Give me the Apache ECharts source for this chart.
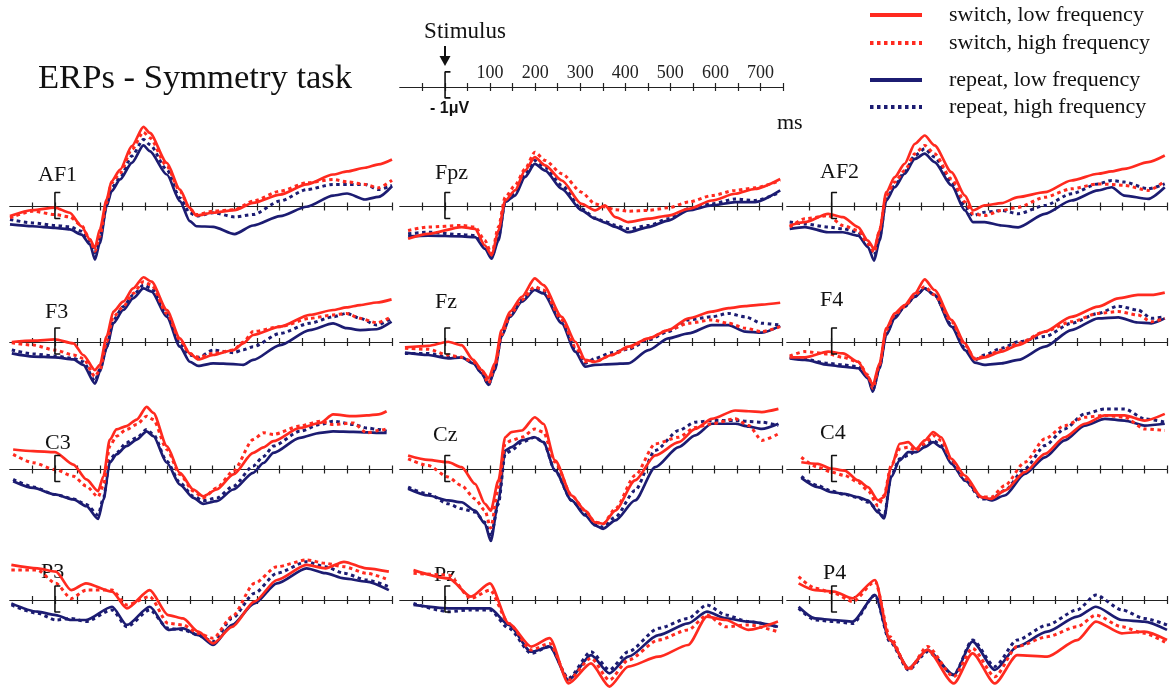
<!DOCTYPE html>
<html>
<head>
<meta charset="utf-8">
<script src="https://cdn.jsdelivr.net/npm/echarts@6/dist/echarts.min.js"></script>
<style>
  html, body { margin: 0; padding: 0; background: #ffffff; }
  #chart { width: 1173px; height: 698px; }
</style>
</head>
<body>
<div id="chart"></div>
<script>
// ---- Conditions, electrodes and axis ticks ----
const conditions = ['switch, low frequency', 'switch, high frequency', 'repeat, low frequency', 'repeat, high frequency'];
const electrodes = ['AF1', 'Fpz', 'AF2', 'F3', 'Fz', 'F4', 'C3', 'Cz', 'C4', 'P3', 'Pz', 'P4'];
const tickMs = [-50, 0, 50, 100, 150, 200, 250, 300, 350, 400, 450, 500, 550, 600, 650, 700, 750];
const scaleLabels = [100, 200, 300, 400, 500, 600, 700];

// ---- Grand-average waveforms (ms, µV; negative plotted upward) ----
// sl = switch/low, sh = switch/high, rl = repeat/low, rh = repeat/high
const AF1_ms = [-100,-50,0,33,59,78,89,100,115,126,145,171,197,211,249,278,300,315,352,400,441,501,560,619,650,690,720,750];
const AF1_sl = [0.37,0.14,0.04,0.24,0.76,1.27,1.59,0.88,-0.27,-0.97,-1.42,-2.32,-3.06,-2.83,-1.68,-0.65,0.05,0.35,0.24,0.14,-0.14,-0.46,-0.85,-1.23,-1.35,-1.49,-1.62,-1.81];
const AF1_sh = [0.44,0.18,0.31,0.40,0.73,1.27,1.72,1.14,-0.14,-0.91,-1.29,-2.19,-2.86,-2.64,-1.55,-0.59,0.09,0.31,0.18,0.12,-0.21,-0.59,-0.91,-1.04,-0.95,-0.85,-0.72,-1.01];
const AF1_rl = [0.69,0.76,0.82,0.88,1.08,1.46,2.04,1.40,-0.01,-0.59,-1.04,-1.68,-2.35,-2.13,-1.23,-0.21,0.56,0.76,0.78,1.06,0.73,0.37,0.01,-0.42,-0.50,-0.27,-0.37,-0.78];
const AF1_rh = [0.50,0.63,0.73,0.78,0.95,1.33,1.78,1.21,-0.08,-0.72,-1.10,-1.94,-2.58,-2.38,-1.42,-0.33,0.24,0.37,0.24,0.40,0.31,-0.21,-0.65,-0.85,-0.85,-0.85,-0.65,-0.81];

const Fpz_ms = [-82,-37,37,67,89,104,119,134,156,178,200,223,260,304,334,356,379,408,453,497,542,594,646,690,746];
const Fpz_sl = [1.24,1.05,0.79,0.86,1.50,1.88,0.92,-0.23,-0.62,-1.38,-1.90,-1.58,-1.00,-0.10,0.15,-0.04,0.41,0.60,0.47,0.35,0.09,-0.23,-0.49,-0.68,-1.06];
const Fpz_sh = [0.92,0.79,0.73,0.79,1.31,1.82,0.79,-0.36,-0.81,-1.44,-2.09,-1.77,-1.26,-0.55,-0.10,0.02,0.12,0.18,0.15,0.05,-0.17,-0.42,-0.62,-0.72,-1.00];
const Fpz_rl = [1.15,1.12,1.15,1.18,1.63,2.01,1.31,-0.17,-0.42,-1.13,-1.64,-1.38,-0.68,0.15,0.47,0.62,0.78,0.99,0.79,0.54,0.15,-0.04,-0.17,-0.17,-0.62];
const Fpz_rh = [1.05,0.99,1.08,1.12,1.56,1.95,1.18,-0.17,-0.55,-1.26,-1.77,-1.51,-0.81,0.09,0.44,0.58,0.72,0.86,0.73,0.47,0.09,-0.10,-0.29,-0.23,-0.55];

const AF2_ms = [-94,-60,-8,25,59,81,95,107,122,141,163,186,208,230,268,298,316,342,380,417,477,536,596,626,655,708,745];
const AF2_sl = [0.73,0.60,0.28,0.41,0.79,1.31,1.63,0.92,-0.55,-1.13,-1.64,-2.41,-2.73,-2.35,-1.32,-0.42,0.15,-0.04,-0.13,-0.36,-0.55,-1.00,-1.26,-1.35,-1.45,-1.71,-1.96];
const AF2_sh = [0.79,0.47,0.35,0.73,0.92,1.44,1.76,0.92,-0.42,-0.94,-1.38,-2.03,-2.35,-2.03,-1.06,-0.17,0.28,0.35,0.15,0.03,-0.36,-0.68,-0.87,-0.85,-0.81,-0.62,-0.97];
const AF2_rl = [0.86,0.79,0.99,0.99,1.12,1.56,2.08,1.31,-0.23,-0.74,-1.26,-1.83,-2.03,-1.71,-0.81,0.15,0.60,0.60,0.73,0.80,0.28,-0.23,-0.62,-0.74,-0.42,-0.29,-0.74];
const AF2_rh = [0.60,0.67,0.79,0.86,0.99,1.44,1.88,1.18,-0.29,-0.81,-1.32,-1.96,-2.22,-1.90,-0.94,-0.04,0.35,0.22,0.15,0.28,-0.04,-0.49,-0.87,-1.00,-0.94,-0.68,-0.87];

const F3_ms = [-96,-48,0,41,63,89,100,115,130,152,174,197,215,249,278,300,319,352,397,419,441,501,567,619,649,679,716,749];
const F3_sl = [0.00,-0.05,-0.10,0.05,0.50,1.08,0.88,-0.21,-1.17,-1.55,-2.06,-2.49,-2.32,-1.23,-0.14,0.44,0.67,0.50,0.31,0.05,-0.27,-0.59,-1.04,-1.23,-1.33,-1.42,-1.52,-1.64];
const F3_sh = [0.03,0.12,0.31,0.50,0.63,1.33,1.08,-0.01,-0.97,-1.36,-1.87,-2.32,-2.19,-1.10,-0.08,0.44,0.59,0.44,0.31,0.00,-0.40,-0.59,-0.91,-1.04,-1.10,-0.91,-0.74,-0.97];
const F3_rl = [0.44,0.56,0.59,0.67,0.88,1.60,1.15,0.24,-0.72,-1.23,-1.68,-2.06,-1.94,-0.97,0.18,0.76,0.92,0.82,0.85,0.88,0.69,0.12,-0.46,-0.72,-0.53,-0.46,-0.49,-0.78];
const F3_rh = [0.31,0.46,0.54,0.63,0.76,1.50,1.05,0.18,-0.85,-1.36,-1.81,-2.19,-2.06,-1.10,0.05,0.50,0.59,0.31,0.41,0.30,0.18,-0.33,-0.72,-0.97,-1.10,-0.91,-0.65,-0.91];

const Fz_ms = [-89,-37,7,37,63,82,97,111,126,145,171,200,219,260,290,312,334,371,408,453,497,542,594,631,668,705,746];
const Fz_sl = [0.21,0.15,-0.01,0.12,0.69,1.08,1.40,0.82,-0.46,-1.17,-1.74,-2.45,-2.19,-0.97,-0.01,0.69,0.76,0.50,0.18,-0.14,-0.46,-0.91,-1.17,-1.30,-1.38,-1.44,-1.51];
const Fz_sh = [0.24,0.28,0.50,0.59,0.76,1.08,1.59,0.95,-0.27,-1.04,-1.62,-2.13,-2.00,-0.85,0.18,0.76,0.76,0.50,0.24,-0.14,-0.46,-0.72,-0.85,-0.72,-0.53,-0.40,-0.59];
const Fz_rl = [0.41,0.50,0.63,0.59,0.82,1.21,1.65,1.08,-0.21,-0.97,-1.55,-2.00,-1.87,-0.72,0.37,0.95,0.88,0.85,0.82,0.31,-0.14,-0.33,-0.65,-0.65,-0.40,-0.36,-0.62];
const Fz_rh = [0.44,0.44,0.59,0.59,0.79,1.21,1.65,1.01,-0.27,-1.04,-1.62,-2.06,-1.94,-0.85,0.24,0.82,0.63,0.41,0.28,-0.08,-0.40,-0.85,-0.97,-1.10,-0.97,-0.72,-0.65];

const F4_ms = [-94,-60,-8,25,59,81,92,107,122,141,163,186,208,230,268,298,320,342,380,417,477,536,596,641,685,715,745];
const F4_sl = [0.59,0.59,0.37,0.44,0.76,1.33,1.65,0.82,-0.53,-1.10,-1.42,-1.87,-2.41,-2.00,-0.85,0.05,0.67,0.59,0.37,0.12,-0.40,-0.97,-1.36,-1.68,-1.81,-1.81,-1.90];
const F4_sh = [0.54,0.37,0.46,0.59,0.76,1.27,1.78,0.88,-0.46,-1.04,-1.36,-1.81,-2.13,-1.81,-0.78,0.12,0.63,0.56,0.31,0.05,-0.40,-0.78,-1.10,-1.17,-1.04,-0.78,-0.91];
const F4_rl = [0.63,0.69,0.88,0.95,1.01,1.40,1.91,1.01,-0.27,-0.91,-1.36,-1.74,-2.06,-1.81,-0.59,0.31,0.79,0.88,0.82,0.69,0.18,-0.46,-0.91,-0.95,-0.75,-0.72,-0.91];
const F4_rh = [0.59,0.67,0.82,0.88,0.95,1.33,1.85,0.95,-0.33,-0.97,-1.36,-1.74,-2.06,-1.81,-0.65,0.24,0.69,0.50,0.24,-0.01,-0.21,-0.72,-1.10,-1.38,-1.23,-0.91,-0.97];

const C3_ms = [-93,-48,0,41,70,96,108,122,137,159,182,204,219,249,278,308,330,360,397,441,464,486,545,590,619,664,694,720,738];
const C3_sl = [-0.77,-0.71,-0.67,-0.19,0.38,0.83,0.26,-1.15,-1.54,-1.67,-1.92,-2.41,-2.18,-0.90,0.13,0.77,1.03,0.77,0.19,-0.64,-0.85,-1.09,-1.60,-1.79,-2.12,-2.05,-2.08,-2.12,-2.24];
const C3_sh = [-0.58,-0.26,0.00,0.26,0.64,1.05,0.60,-0.90,-1.28,-1.54,-1.73,-2.05,-1.92,-0.77,0.19,0.83,1.09,0.71,0.06,-1.15,-1.41,-1.35,-1.67,-1.86,-1.73,-1.79,-1.41,-1.50,-1.56];
const C3_rl = [0.45,0.71,0.96,1.15,1.41,1.90,1.15,-0.26,-0.58,-0.90,-1.15,-1.47,-1.28,-0.26,0.58,1.09,1.32,1.22,0.77,0.13,-0.25,-0.64,-1.22,-1.41,-1.47,-1.45,-1.43,-1.41,-1.41];
const C3_rh = [0.38,0.67,0.96,1.13,1.35,1.75,1.09,-0.38,-0.64,-1.03,-1.22,-1.54,-1.35,-0.32,0.51,1.03,1.20,1.10,0.64,-0.13,-0.50,-0.90,-1.47,-1.73,-1.86,-1.73,-1.60,-1.54,-1.47];

const Cz_ms = [-82,-37,7,37,67,89,102,119,134,148,171,200,219,245,282,312,334,352,379,423,468,520,557,594,646,676,705,742];
const Cz_sl = [-0.54,-0.37,-0.28,-0.09,0.55,1.32,1.58,0.42,-1.24,-1.44,-1.50,-2.01,-1.76,-0.35,1.00,1.58,2.03,2.09,1.58,0.42,-0.54,-1.05,-1.56,-1.95,-2.27,-2.24,-2.21,-2.33];
const Cz_sh = [-0.41,-0.15,0.29,0.62,1.13,1.58,2.25,0.68,-0.99,-1.12,-1.24,-1.56,-1.44,-0.28,1.00,1.58,2.03,2.09,1.51,0.23,-0.99,-1.24,-1.62,-1.76,-1.95,-1.69,-1.12,-1.37];
const Cz_rl = [0.74,1.00,1.19,1.26,1.58,2.09,2.75,1.19,-0.73,-0.86,-1.12,-1.24,-1.05,0.04,1.19,1.77,2.15,2.28,1.96,1.19,-0.09,-0.86,-1.31,-1.76,-1.76,-1.65,-1.56,-1.76];
const Cz_rh = [0.68,0.94,1.32,1.51,1.64,2.03,2.58,1.32,-0.60,-0.73,-1.05,-1.24,-1.05,0.04,1.19,1.71,2.09,2.22,1.83,0.81,-0.73,-1.50,-1.82,-1.88,-1.88,-1.85,-1.82,-1.69];

const C4_ms = [-68,-31,-1,29,59,81,104,117,133,152,171,189,208,227,245,268,298,335,357,387,432,477,521,566,611,655,700,745];
const C4_sl = [-0.28,-0.22,-0.03,0.04,0.42,0.68,1.19,1.06,-0.09,-0.99,-1.05,-0.79,-1.12,-1.44,-1.24,-0.41,0.23,1.06,1.13,0.81,0.10,-0.60,-1.24,-1.76,-2.08,-2.08,-1.88,-2.14];
const C4_sh = [-0.47,-0.09,0.10,0.23,0.49,0.81,1.40,1.00,-0.15,-0.79,-0.86,-0.73,-0.99,-1.31,-1.12,-0.35,0.36,1.06,1.06,0.62,-0.28,-1.18,-1.69,-2.01,-2.08,-2.01,-1.56,-1.50];
const C4_rl = [0.32,0.68,0.87,0.94,1.06,1.19,1.65,1.88,0.29,-0.35,-0.67,-0.67,-0.86,-1.05,-0.86,-0.22,0.42,1.06,1.19,1.00,0.17,-0.47,-1.12,-1.69,-1.95,-1.88,-1.69,-1.76];
const C4_rh = [0.27,0.62,0.83,0.96,1.09,1.26,1.55,1.83,0.23,-0.41,-0.54,-0.73,-0.92,-1.12,-0.92,-0.28,0.42,1.13,1.13,0.81,-0.03,-0.92,-1.56,-2.14,-2.33,-2.33,-1.95,-1.82];

const P3_ms = [-97,-39,2,36,69,127,160,211,252,285,319,352,394,444,494,560,602,643,693,743];
const P3_sl = [-1.35,-1.22,-1.09,-0.38,-0.64,-0.32,0.32,-0.38,0.58,0.71,1.22,1.67,1.03,0.06,-0.77,-1.35,-1.22,-1.47,-1.22,-1.09];
const P3_sh = [-1.15,-1.15,-0.64,-0.06,-0.38,-0.38,0.19,-0.13,0.90,0.96,1.28,1.47,0.64,-0.64,-1.28,-1.54,-1.41,-1.28,-1.03,-0.77];
const P3_rl = [0.13,0.45,0.58,0.77,0.77,0.26,0.96,0.26,1.15,1.09,1.35,1.73,0.96,0.13,-0.64,-1.22,-1.03,-0.83,-0.71,-0.38];
const P3_rh = [0.19,0.51,0.77,0.71,0.83,0.38,1.03,0.38,1.09,1.15,1.35,1.60,0.71,-0.26,-1.03,-1.47,-1.28,-1.03,-0.77,-0.51];

const Pz_ms = [-70,8,58,100,142,192,233,275,325,366,408,475,541,583,625,675,741];
const Pz_sl = [-1.15,-0.83,-0.13,-0.64,0.90,1.79,1.47,3.21,2.44,3.33,2.56,2.18,1.73,0.64,0.77,1.15,0.83];
const Pz_sh = [-1.03,-0.96,-0.06,-0.38,0.90,1.92,1.67,3.08,2.24,3.08,2.31,1.54,1.15,0.58,1.03,0.96,1.22];
const Pz_rl = [0.19,0.32,0.32,0.32,0.96,1.99,1.79,3.08,2.12,2.82,2.18,1.35,0.90,0.45,0.71,0.83,1.03];
const Pz_rh = [0.13,0.45,0.38,0.38,1.09,2.05,1.79,3.01,1.99,2.69,1.99,1.09,0.71,0.19,0.58,0.83,1.03];

const P4_ms = [-74,-37,5,47,97,130,172,214,273,315,365,415,482,549,591,649,699,750];
const P4_sl = [-0.64,-0.38,-0.32,-0.06,-0.77,1.54,2.63,1.92,3.21,2.05,3.21,2.12,2.18,1.54,0.83,1.28,1.22,1.54];
const P4_sh = [-0.90,-0.45,-0.26,0.06,-0.71,1.41,2.69,1.79,2.95,1.86,2.95,1.79,1.41,1.03,0.58,1.03,1.28,1.67];
const P4_rl = [0.26,0.71,0.77,0.83,-0.19,1.54,2.63,1.92,2.88,1.60,2.69,1.79,1.22,0.64,0.26,0.77,0.83,1.15];
const P4_rh = [0.32,0.77,0.83,0.90,-0.19,1.60,2.69,1.99,2.88,1.54,2.56,1.54,0.96,0.38,-0.19,0.38,0.71,0.96];

const waves = {
  AF1: [AF1_ms, AF1_sl, AF1_sh, AF1_rl, AF1_rh],
  Fpz: [Fpz_ms, Fpz_sl, Fpz_sh, Fpz_rl, Fpz_rh],
  AF2: [AF2_ms, AF2_sl, AF2_sh, AF2_rl, AF2_rh],
  F3:  [F3_ms, F3_sl, F3_sh, F3_rl, F3_rh],
  Fz:  [Fz_ms, Fz_sl, Fz_sh, Fz_rl, Fz_rh],
  F4:  [F4_ms, F4_sl, F4_sh, F4_rl, F4_rh],
  C3:  [C3_ms, C3_sl, C3_sh, C3_rl, C3_rh],
  Cz:  [Cz_ms, Cz_sl, Cz_sh, Cz_rl, Cz_rh],
  C4:  [C4_ms, C4_sl, C4_sh, C4_rl, C4_rh],
  P3:  [P3_ms, P3_sl, P3_sh, P3_rl, P3_rh],
  Pz:  [Pz_ms, Pz_sl, Pz_sh, Pz_rl, Pz_rh],
  P4:  [P4_ms, P4_sl, P4_sh, P4_rl, P4_rh]
};

// ---- Layout ----
const SERIF = '"Liberation Serif", "Times New Roman", serif';
const SANS = '"Liberation Sans", Arial, sans-serif';
const RED = '#ff2a1f';
const NAVY = '#1c1c72';
const PX_PER_UV = 26;
const HALF_H = 4 * PX_PER_UV;           // grid spans -4..4 µV, zero line in the middle
const colLeft = [10, 400, 787];
const colWidth = [382, 382, 380];
const rowAxisY = [206.5, 342, 469.5, 600];
const labelPos = {
  AF1: [38, 175], Fpz: [435, 173], AF2: [820, 172],
  F3: [45, 312], Fz: [435, 302], F4: [820, 300],
  C3: [45, 443], Cz: [433, 435], C4: [820, 433],
  P3: [41, 572], Pz: [434, 575], P4: [823, 573]
};
const condStyle = [
  { color: RED, type: 'solid', width: 2.7 },
  { color: RED, type: [3.5, 3.5], width: 3 },
  { color: NAVY, type: 'solid', width: 2.7 },
  { color: NAVY, type: [3.5, 3.5], width: 3 }
];
const drawOrder = [3, 2, 1, 0];

const grids = [], xAxes = [], yAxes = [], series = [], graphics = [];

// Two x axes share each zero line: one carries the downward tick halves,
// the other (shifted from the grid top onto the zero line) the upward halves.
function xAxisDef(gi, pos, withLabels) {
  const isTop = pos === 'top';
  return {
    gridIndex: gi, type: 'value', min: -100, max: 750, interval: 50, position: pos,
    offset: isTop ? -HALF_H : 0,
    axisLine: {
      show: true, onZero: !isTop, onZeroAxisIndex: isTop ? undefined : gi,
      lineStyle: { color: '#222', width: 1.2 }
    },
    axisTick: { show: true, length: 4, customValues: tickMs, lineStyle: { color: '#222', width: 1.2 } },
    axisLabel: withLabels
      ? { show: true, customValues: scaleLabels, margin: 5, fontFamily: SERIF, fontSize: 18, color: '#222' }
      : { show: false },
    splitLine: { show: false }
  };
}

function addGrid(left, width, axisY, withLabels) {
  const gi = grids.length;
  grids.push({
    left: left, width: width, top: axisY - HALF_H, height: 2 * HALF_H,
    containLabel: false, outerBoundsMode: 'none'
  });
  yAxes.push({ gridIndex: gi, type: 'value', min: -4, max: 4, inverse: true, show: false });
  xAxes.push(xAxisDef(gi, 'bottom', false), xAxisDef(gi, 'top', withLabels));
  return gi;
}

function addBracket(gi, top, bottom) {
  series.push({
    name: 'calibration', type: 'line', xAxisIndex: 2 * gi, yAxisIndex: gi,
    data: [[12, top], [0, top], [0, bottom], [12, bottom]],
    symbol: 'none', silent: true, z: 4, clip: false,
    lineStyle: { color: '#111', width: 1.6 }
  });
}

// Scale panel at the top
const scaleGrid = addGrid(400, 383, 87, true);
addBracket(scaleGrid, -0.58, 0.42);

// Electrode panels
electrodes.forEach(function (name, idx) {
  const col = idx % 3, row = Math.floor(idx / 3);
  const gi = addGrid(colLeft[col], colWidth[col], rowAxisY[row], false);
  addBracket(gi, -0.54, 0.46);
  const w = waves[name];
  drawOrder.forEach(function (c) {
    const st = condStyle[c];
    series.push({
      name: conditions[c], type: 'line', xAxisIndex: 2 * gi, yAxisIndex: gi,
      data: w[0].map(function (t, i) { return [t, w[c + 1][i]]; }),
      symbol: 'none', smooth: 0.25, smoothMonotone: 'x', z: 3,
      lineStyle: { color: st.color, width: st.width, type: st.type, cap: 'butt' },
      itemStyle: { color: st.color }
    });
  });
  graphics.push({
    type: 'text', x: labelPos[name][0], y: labelPos[name][1], z: 0,
    style: { text: name, fontFamily: SERIF, fontSize: 22, fill: '#111', textVerticalAlign: 'middle', verticalAlign: 'middle' }
  });
});

// Title, stimulus marker and units
graphics.push(
  { type: 'text', x: 38, y: 79, style: { text: 'ERPs - Symmetry task', fontFamily: SERIF, fontSize: 34.6, fill: '#111', textVerticalAlign: 'middle', verticalAlign: 'middle' } },
  { type: 'text', x: 465, y: 32, style: { text: 'Stimulus', fontFamily: SERIF, fontSize: 23, fill: '#111', textAlign: 'center', align: 'center', textVerticalAlign: 'middle', verticalAlign: 'middle' } },
  { type: 'line', shape: { x1: 445, y1: 46, x2: 445, y2: 58 }, style: { stroke: '#111', lineWidth: 2 } },
  { type: 'polygon', shape: { points: [[439.5, 56], [450.5, 56], [445, 66]] }, style: { fill: '#111' } },
  { type: 'text', x: 430, y: 109, style: { text: '- 1μV', fontFamily: SANS, fontWeight: 'bold', fontSize: 16, fill: '#111', textVerticalAlign: 'middle', verticalAlign: 'middle' } },
  { type: 'text', x: 777, y: 123, style: { text: 'ms', fontFamily: SERIF, fontSize: 22, fill: '#111', textVerticalAlign: 'middle', verticalAlign: 'middle' } }
);

const legendBase = {
  orient: 'vertical', left: 868, padding: 0, itemWidth: 52, itemHeight: 4,
  selectedMode: false,
  lineStyle: { width: 4 },
  itemStyle: { opacity: 0 },
  textStyle: { fontFamily: SERIF, fontSize: 22, color: '#111', lineHeight: 24, padding: [0, 0, 0, 22] }
};

const option = {
  backgroundColor: '#ffffff',
  animation: false,
  grid: grids,
  xAxis: xAxes,
  yAxis: yAxes,
  legend: [
    Object.assign({}, legendBase, { data: conditions.slice(0, 2), top: 3, itemGap: 4 }),
    Object.assign({}, legendBase, { data: conditions.slice(2, 4), top: 68, itemGap: 3 })
  ],
  graphic: { elements: graphics },
  series: series
};

const chart = echarts.init(document.getElementById('chart'), null, { renderer: 'canvas' });
chart.setOption(option);
</script>
</body>
</html>
